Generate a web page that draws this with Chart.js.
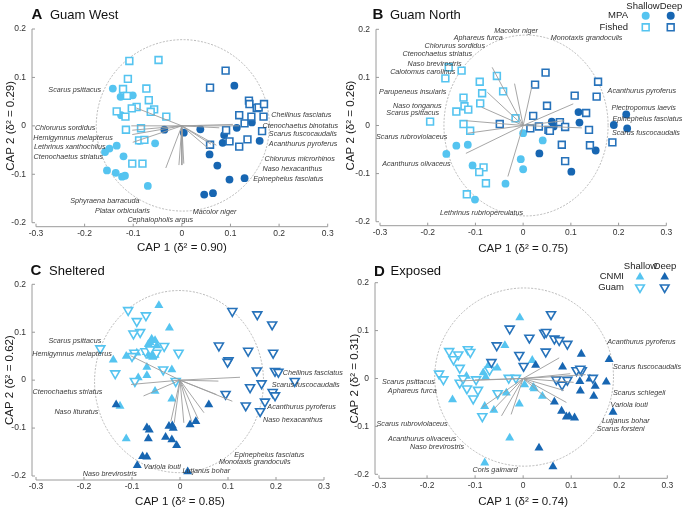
<!DOCTYPE html>
<html>
<head>
<meta charset="utf-8">
<script src="https://cdn.jsdelivr.net/npm/chart.js@4.4.0/dist/chart.umd.min.js"></script>
<style>
html, body { margin: 0; padding: 0; background: #fff; }
#wrap { position: relative; width: 688px; height: 511px; overflow: hidden; }
.panel { position: absolute; width: 344px; height: 256px; }
</style>
</head>
<body>
<div id="wrap">
    <div class="panel" style="left:0;top:0"><canvas id="chartA" width="344" height="256"></canvas></div>
    <div class="panel" style="left:344px;top:0"><canvas id="chartB" width="344" height="256"></canvas></div>
    <div class="panel" style="left:0;top:256px"><canvas id="chartC" width="344" height="256"></canvas></div>
    <div class="panel" style="left:344px;top:256px"><canvas id="chartD" width="344" height="256"></canvas></div>
</div>
<script>
// Eixos
const xTicks = [-0.3, -0.2, -0.1, 0, 0.1, 0.2, 0.3];
const yTicks = [-0.2, -0.1, 0, 0.1, 0.2];

// ========== A: GUAM WEST ==========
const westMpaShallow = [[-0.142,0.077],[-0.126,0.060],[-0.101,0.063],[-0.125,0.022],[-0.134,-0.041],[-0.149,-0.047],[-0.158,-0.054],[-0.120,-0.063],[-0.088,-0.031],[-0.055,-0.036],[-0.154,-0.092],[-0.136,-0.097],[-0.123,-0.105],[-0.117,-0.103],[-0.070,-0.124]];
const westMpaDeep = [[0.108,0.083],[0.038,-0.007],[0.004,-0.014],[-0.036,-0.008],[0.113,-0.004],[0.144,0.007],[0.087,-0.019],[0.084,-0.035],[0.160,-0.031],[0.057,-0.059],[0.073,-0.082],[0.098,-0.111],[0.129,-0.108],[0.046,-0.142],[0.064,-0.139]];
const westFishedShallow = [[-0.108,0.134],[-0.048,0.136],[-0.111,0.097],[-0.121,0.076],[-0.113,0.062],[-0.073,0.077],[-0.068,0.053],[-0.093,0.039],[-0.103,0.036],[-0.057,0.034],[-0.064,0.029],[-0.134,0.030],[-0.116,0.019],[-0.032,0.019],[-0.115,-0.008],[-0.084,-0.005],[-0.088,-0.030],[-0.077,-0.029],[-0.102,-0.078],[-0.081,-0.078]];
const westFishedDeep = [[0.090,0.114],[0.058,0.079],[0.138,0.052],[0.139,0.045],[0.154,0.037],[0.158,0.038],[0.169,0.045],[0.118,0.022],[0.143,0.019],[0.168,0.019],[0.129,0.005],[0.091,-0.009],[0.098,-0.032],[0.135,-0.028],[0.118,-0.043],[0.165,-0.011],[0.058,-0.039]];
const westVectors = [[-0.094,0.037],[-0.104,0.0],[-0.102,-0.009],[-0.102,-0.018],[-0.101,-0.034],[-0.033,-0.087],[-0.006,-0.081],[0.0,-0.081],[0.004,-0.078],[0.105,0.003],[0.118,0.0],[0.077,-0.004],[0.071,-0.040],[0.060,-0.038],[0.055,-0.047]];
const westSpecies = [
    ['Scarus psittacus', -0.166, 0.074, 'right'],
    ['Chlorurus sordidus', -0.178, -0.005, 'right'],
    ['Hemigymnus melapterus', -0.142, -0.025, 'right'],
    ['Lethrinus xanthochilus', -0.157, -0.043, 'right'],
    ['Ctenochaetus striatus', -0.162, -0.064, 'right'],
    ['Sphyraena barracuda', -0.087, -0.154, 'right'],
    ['Platax orbicularis', -0.066, -0.175, 'right'],
    ['Cephalopholis argus', 0.023, -0.193, 'right'],
    ['Macolor niger', 0.112, -0.178, 'right'],
    ['Cheilinus fasciatus', 0.184, 0.022, 'left'],
    ['Ctenochaetus binotatus', 0.166, 0.001, 'left'],
    ['Scarus fuscocaudalis', 0.179, -0.017, 'left'],
    ['Acanthurus pyroferus', 0.179, -0.037, 'left'],
    ['Chlorurus microrhinos', 0.170, -0.069, 'left'],
    ['Naso hexacanthus', 0.166, -0.088, 'left'],
    ['Epinephelus fasciatus', 0.147, -0.109, 'left']
];

// ========== B: GUAM NORTH ==========
const northMpaShallow = [[-0.140,-0.042],[-0.116,-0.040],[-0.161,-0.059],[-0.106,-0.083],[0.0,-0.016],[0.041,-0.031],[-0.005,-0.070],[0.0,-0.091],[-0.037,-0.121],[-0.101,-0.154]];
const northMpaDeep = [[0.116,0.028],[0.118,0.006],[0.060,0.008],[0.064,-0.002],[0.034,-0.058],[0.101,-0.096],[0.152,-0.052],[0.216,0.023],[0.190,0.001],[0.218,-0.006]];
const northFishedShallow = [[-0.156,0.121],[-0.163,0.098],[-0.129,0.114],[-0.091,0.091],[-0.055,0.103],[-0.042,0.071],[-0.086,0.067],[-0.125,0.058],[-0.090,0.046],[-0.140,0.029],[-0.123,0.040],[-0.115,0.033],[-0.195,0.008],[-0.125,0.003],[-0.111,-0.011],[-0.016,0.015],[-0.083,-0.087],[-0.092,-0.097],[-0.078,-0.120],[-0.118,-0.143]];
const northFishedDeep = [[0.047,0.110],[0.025,0.085],[0.050,0.041],[0.108,0.062],[0.157,0.091],[0.154,0.060],[-0.049,0.003],[0.021,0.020],[0.015,-0.006],[0.033,-0.002],[0.053,-0.009],[0.056,-0.011],[0.077,0.007],[0.088,-0.003],[0.132,0.026],[0.138,-0.009],[0.081,-0.040],[0.088,-0.074],[0.140,-0.041],[0.187,-0.035]];
const northVectors = [[-0.065,0.121],[-0.018,0.087],[-0.075,0.069],[-0.087,0.038],[-0.120,0.010],[-0.116,-0.016],[-0.120,-0.058],[-0.032,-0.106],[0.018,0.080],[0.086,0.010],[0.105,0.045],[0.123,-0.005]];
const northSpecies = [
    ['Macolor niger', 0.031, 0.197, 'right'],
    ['Aphareus furca', -0.043, 0.183, 'right'],
    ['Chlorurus sordidus', -0.080, 0.166, 'right'],
    ['Ctenochaetus striatus', -0.107, 0.149, 'right'],
    ['Naso brevirostris', -0.129, 0.128, 'right'],
    ['Calotomus carolinus', -0.142, 0.112, 'right'],
    ['Parupeneus insularis', -0.161, 0.071, 'right'],
    ['Naso tonganus', -0.171, 0.041, 'right'],
    ['Scarus psittacus', -0.176, 0.026, 'right'],
    ['Scarus rubroviolaceus', -0.159, -0.023, 'right'],
    ['Acanthurus olivaceus', -0.152, -0.080, 'right'],
    ['Lethrinus rubrioperculatus', 0.0, -0.182, 'right'],
    ['Monotaxis grandoculis', 0.058, 0.182, 'left'],
    ['Acanthurus pyroferus', 0.177, 0.073, 'left'],
    ['Plectropomus laevis', 0.185, 0.036, 'left'],
    ['Epinephelus fasciatus', 0.187, 0.015, 'left'],
    ['Scarus fuscocaudalis', 0.186, -0.016, 'left']
];

// ========== C: SHELTERED ==========
const shelCnmiShallow = [[-0.044,0.156],[-0.022,0.109],[-0.059,0.086],[-0.052,0.083],[-0.062,0.078],[-0.066,0.075],[-0.048,0.072],[-0.070,0.058],[-0.060,0.056],[-0.052,0.052],[-0.057,0.048],[-0.063,0.050],[-0.090,0.057],[-0.112,0.050],[-0.139,0.042],[-0.017,0.022],[-0.069,0.027],[-0.069,0.010],[-0.087,0.005],[-0.052,-0.023],[-0.017,-0.039],[-0.125,-0.054],[-0.112,-0.122]];
const shelCnmiDeep = [[-0.133,-0.051],[0.060,-0.051],[-0.069,-0.099],[-0.064,-0.104],[-0.066,-0.122],[-0.030,-0.119],[-0.023,-0.096],[-0.016,-0.095],[-0.014,-0.100],[0.021,-0.093],[0.033,-0.086],[-0.017,-0.124],[-0.007,-0.136],[-0.078,-0.159],[-0.069,-0.160],[-0.089,-0.178],[0.016,-0.191],[-0.044,-0.211]];
const shelGuamShallow = [[-0.108,0.146],[-0.090,0.123],[-0.071,0.135],[-0.083,0.100],[-0.097,0.097],[-0.166,0.066],[-0.095,0.057],[-0.100,0.050],[-0.033,0.071],[-0.049,0.057],[-0.003,0.057],[-0.035,0.022],[-0.135,0.014],[-0.094,-0.002],[-0.009,-0.002],[-0.072,0.060],[-0.062,0.064]];
const shelGuamDeep = [[0.109,0.144],[0.161,0.137],[0.192,0.116],[0.081,0.072],[0.142,0.061],[0.194,0.057],[0.101,0.041],[0.099,0.038],[0.160,0.020],[0.198,0.019],[0.205,0.017],[0.170,-0.007],[0.146,-0.015],[0.239,-0.002],[0.193,-0.025],[0.198,-0.032],[0.095,-0.029],[0.177,-0.045],[0.137,-0.053],[0.167,-0.065]];
const shelVectors = [[-0.103,0.051],[-0.102,-0.009],[-0.076,-0.033],[0.125,0.006],[0.080,-0.002],[0.076,-0.030],[0.109,-0.044],[-0.019,-0.086],[-0.012,-0.089],[0.008,-0.089],[0.024,-0.086],[0.038,-0.081],[0.050,-0.068]];
const shelSpecies = [
    ['Scarus psittacus', -0.164, 0.083, 'right'],
    ['Hemigymnus melapterus', -0.142, 0.055, 'right'],
    ['Ctenochaetus striatus', -0.162, -0.025, 'right'],
    ['Naso lituratus', -0.170, -0.067, 'right'],
    ['Naso brevirostris', -0.090, -0.195, 'right'],
    ['Variola louti', 0.002, -0.181, 'right'],
    ['Cheilinus fasciatus', 0.214, 0.015, 'left'],
    ['Scarus fuscocaudalis', 0.191, -0.010, 'left'],
    ['Acanthurus pyroferus', 0.182, -0.056, 'left'],
    ['Naso hexacanthus', 0.173, -0.082, 'left'],
    ['Epinephelus fasciatus', 0.113, -0.155, 'left'],
    ['Monotaxis grandoculis', 0.081, -0.170, 'left'],
    ['Lutjanus bohar', 0.005, -0.189, 'left']
];

// ========== D: EXPOSED ==========
const expoCnmiShallow = [[-0.007,0.127],[-0.038,0.069],[0.019,0.038],[-0.073,0.026],[-0.054,0.022],[-0.118,0.005],[-0.083,0.012],[-0.147,-0.044],[-0.080,-0.058],[-0.061,-0.066],[-0.035,-0.030],[-0.008,-0.053],[0.003,-0.013],[0.021,-0.018],[0.040,-0.037],[-0.028,-0.124],[-0.080,-0.176],[-0.078,0.003],[0.023,-0.021]];
const expoCnmiDeep = [[0.026,0.028],[0.082,0.024],[0.121,0.051],[0.179,0.040],[0.173,-0.007],[0.139,-0.001],[0.150,-0.016],[0.118,-0.006],[0.119,-0.026],[0.147,-0.037],[0.065,-0.049],[0.080,-0.068],[0.090,-0.080],[0.107,-0.082],[0.096,-0.079],[0.187,-0.070],[0.033,-0.145],[0.062,-0.184]];
const expoGuamShallow = [[-0.175,0.010],[-0.166,-0.002],[-0.154,0.057],[-0.135,0.050],[-0.115,0.061],[-0.110,0.055],[-0.132,0.022],[-0.132,-0.009],[-0.117,-0.021],[-0.094,-0.024],[-0.104,-0.042],[-0.085,-0.079],[-0.053,-0.031],[-0.030,0.001],[-0.015,0.001],[-0.098,-0.002],[-0.125,0.000],[-0.070,0.018],[-0.145,0.040]];
const expoGuamDeep = [[0.058,0.134],[-0.028,0.104],[0.044,0.095],[0.048,0.097],[0.013,0.085],[0.065,0.083],[0.075,0.080],[0.092,0.072],[-0.055,0.069],[-0.008,0.049],[0.047,0.056],[0.001,0.026],[-0.066,0.034],[0.111,0.017],[0.122,0.017],[0.145,0.001],[0.069,-0.002],[0.092,-0.003],[0.081,-0.013],[0.119,0.020]];
const expoVectors = [[0.075,0.043],[0.098,0.010],[0.130,0.008],[0.105,-0.008],[0.085,-0.025],[0.090,-0.050],[0.060,-0.050],[-0.132,-0.005],[-0.100,-0.003],[-0.085,-0.060],[-0.065,-0.068],[-0.045,-0.078],[-0.025,-0.075]];
const expoSpecies = [
    ['Scarus psittacus', -0.184, -0.007, 'right'],
    ['Aphareus furca', -0.180, -0.025, 'right'],
    ['Scarus rubroviolaceus', -0.157, -0.095, 'right'],
    ['Acanthurus olivaceus', -0.139, -0.126, 'right'],
    ['Naso brevirostris', -0.123, -0.143, 'right'],
    ['Coris gaimard', -0.012, -0.190, 'right'],
    ['Acanthurus pyroferus', 0.175, 0.076, 'left'],
    ['Scarus fuscocaudalis', 0.187, 0.024, 'left'],
    ['Scarus schlegeli', 0.187, -0.030, 'left'],
    ['Variola louti', 0.182, -0.054, 'left'],
    ['Lutjanus bohar', 0.164, -0.089, 'left'],
    ['Scarus forsteni', 0.153, -0.106, 'left']
];

// Cores
const lightBlue = '#55c4f0';
const darkBlue = '#1766b2';
const darkOutline = '#2672ba';
const vectorColor = '#9c9c9c';
const axisColor = '#9a9a9a';
const fontFamily = '"Liberation Sans", Arial, sans-serif';

function toPoints(arr) {
    return arr.map(p => ({ x: p[0], y: p[1] }));
}

function markerSet(arr, style, color, filled, rotation) {
    return {
        data: toPoints(arr),
        pointStyle: style,
        rotation: rotation || 0,
        pointRadius: style === 'circle' ? 3.9 : (style === 'rect' ? 4.8 : 5.2),
        pointBackgroundColor: filled ? color : '#ffffff',
        pointBorderColor: color,
        pointBorderWidth: filled ? 0 : 1.6,
        showLine: false,
        clip: false,
        order: 1
    };
}

function vectorSets(vectors) {
    return vectors.map(v => ({
        data: [{ x: 0, y: 0 }, { x: v[0], y: v[1] }],
        showLine: true,
        borderColor: vectorColor,
        borderWidth: 0.9,
        pointRadius: 0,
        clip: false,
        order: 0
    }));
}

// Círculo, eixos, rótulos e legenda
const capDecor = {
    id: 'capDecor',
    beforeDatasetsDraw(chart, args, opts) {
        const ctx = chart.ctx;
        const xs = chart.scales.x, ys = chart.scales.y;
        const c = opts.circle;
        const pxX = Math.abs(xs.getPixelForValue(1) - xs.getPixelForValue(0));
        const pxY = Math.abs(ys.getPixelForValue(1) - ys.getPixelForValue(0));
        ctx.save();
        ctx.strokeStyle = '#a8a8a8';
        ctx.lineWidth = 0.8;
        ctx.setLineDash([2, 1.5]);
        ctx.beginPath();
        ctx.ellipse(xs.getPixelForValue(c[0]), ys.getPixelForValue(c[1]), c[2] * pxX, c[3] * pxY, 0, 0, Math.PI * 2);
        ctx.stroke();
        ctx.restore();

        // eixos destacados
        const area = chart.chartArea;
        const yLine = area.left - 4;
        const xLine = area.bottom + 4;
        ctx.save();
        ctx.strokeStyle = axisColor;
        ctx.lineWidth = 1;
        ctx.beginPath();
        ctx.moveTo(yLine, ys.getPixelForValue(yTicks[yTicks.length - 1]));
        ctx.lineTo(yLine, ys.getPixelForValue(yTicks[0]));
        ys.ticks.forEach(t => {
            const py = ys.getPixelForValue(t.value);
            ctx.moveTo(yLine, py);
            ctx.lineTo(yLine + 3, py);
        });
        ctx.moveTo(xs.getPixelForValue(xTicks[0]), xLine);
        ctx.lineTo(xs.getPixelForValue(xTicks[xTicks.length - 1]), xLine);
        xs.ticks.forEach(t => {
            const px = xs.getPixelForValue(t.value);
            ctx.moveTo(px, xLine);
            ctx.lineTo(px, xLine - 3);
        });
        ctx.stroke();
        ctx.restore();
    },
    afterDatasetsDraw(chart, args, opts) {
        const ctx = chart.ctx;
        const xs = chart.scales.x, ys = chart.scales.y;
        ctx.save();
        ctx.fillStyle = '#3a3a3a';
        ctx.font = 'italic 8px ' + fontFamily;
        ctx.textBaseline = 'middle';
        opts.species.forEach(s => {
            ctx.save();
            ctx.translate(xs.getPixelForValue(s[1]), ys.getPixelForValue(s[2]));
            ctx.scale(0.9, 1);
            ctx.textAlign = s[3];
            ctx.fillText(s[0], 0, 0);
            ctx.restore();
        });
        ctx.restore();

        // título do painel
        ctx.save();
        ctx.fillStyle = '#111';
        ctx.textBaseline = 'middle';
        ctx.textAlign = 'left';
        ctx.font = 'bold 15px ' + fontFamily;
        ctx.fillText(opts.letter, opts.titlePos[0], opts.titlePos[1]);
        ctx.font = '13px ' + fontFamily;
        ctx.fillText(opts.name, opts.titlePos[2], opts.titlePos[1]);
        ctx.restore();

        if (opts.legend) drawLegend(ctx, opts.legend);
    }
};

function drawLegend(ctx, lg) {
    ctx.save();
    ctx.fillStyle = '#222';
    ctx.font = '9.5px ' + fontFamily;
    ctx.textBaseline = 'middle';
    ctx.textAlign = 'center';
    ctx.fillText('Shallow', lg.cols[0], lg.head);
    ctx.fillText('Deep', lg.cols[1], lg.head);
    ctx.textAlign = 'right';
    lg.rows.forEach((r, i) => ctx.fillText(r, lg.labelX, lg.rowY[i]));
    lg.markers.forEach(m => {
        ctx.fillStyle = m.fill;
        ctx.strokeStyle = m.stroke;
        ctx.lineWidth = m.width;
        Chart.helpers.drawPoint(ctx, { pointStyle: m.style, rotation: m.rotation || 0, radius: m.radius, borderWidth: m.width }, m.x, m.y);
    });
    ctx.restore();
}

function fmtTick(v) {
    return Math.abs(v) < 1e-9 ? '0' : v.toFixed(1);
}

function createCapChart(id, datasets, cfg) {
    const ctx = document.getElementById(id);
    return new Chart(ctx, {
        type: 'scatter',
        data: { datasets: datasets },
        options: {
            responsive: false,
            animation: false,
            events: [],
            layout: { padding: { left: 0, right: 344 - cfg.area[1], top: cfg.area[2], bottom: 0 } },
            plugins: {
                legend: { display: false },
                tooltip: { enabled: false },
                capDecor: cfg.decor
            },
            scales: {
                x: {
                    type: 'linear',
                    min: -0.3,
                    max: 0.3,
                    afterBuildTicks: scale => { scale.ticks = xTicks.map(v => ({ value: v })); },
                    afterFit: scale => { scale.height = 256 - cfg.area[3]; },
                    grid: { display: false, drawTicks: false },
                    border: { display: false },
                    ticks: { color: '#333', font: { family: fontFamily, size: 8.5 }, padding: 6, callback: fmtTick, maxRotation: 0 },
                    title: { display: true, text: cfg.xTitle, color: '#1a1a1a', font: { family: fontFamily, size: 11.5 }, padding: { top: 0, bottom: cfg.xTitlePad } }
                },
                y: {
                    type: 'linear',
                    min: -0.2,
                    max: 0.2,
                    afterBuildTicks: scale => { scale.ticks = yTicks.map(v => ({ value: v })); },
                    afterFit: scale => { scale.width = cfg.area[0]; },
                    grid: { display: false, drawTicks: false },
                    border: { display: false },
                    ticks: { color: '#333', font: { family: fontFamily, size: 8.5 }, padding: 10, callback: fmtTick },
                    title: { display: true, text: cfg.yTitle, color: '#1a1a1a', font: { family: fontFamily, size: 11.5 }, padding: { top: cfg.yTitlePad, bottom: 0 } }
                }
            }
        },
        plugins: [capDecor]
    });
}

const circleStyle = (arr, color) => markerSet(arr, 'circle', color, true);

// A
createCapChart('chartA', [
    ...vectorSets(westVectors),
    markerSet(westFishedDeep, 'rect', darkOutline, false),
    markerSet(westFishedShallow, 'rect', lightBlue, false),
    circleStyle(westMpaDeep, darkBlue),
    circleStyle(westMpaShallow, lightBlue)
], {
    area: [36, 327.7, 29, 222.7],
    xTitle: 'CAP 1 (δ² = 0.90)', yTitle: 'CAP 2 (δ² = 0.29)',
    xTitlePad: 1.5, yTitlePad: 4,
    decor: { circle: [0.002, 0.001, 0.178, 0.177], species: westSpecies, letter: 'A', name: 'Guam West', titlePos: [31.5, 15, 50] }
});

// B
createCapChart('chartB', [
    ...vectorSets(northVectors),
    markerSet(northFishedDeep, 'rect', darkOutline, false),
    markerSet(northFishedShallow, 'rect', lightBlue, false),
    circleStyle(northMpaDeep, darkBlue),
    circleStyle(northMpaShallow, lightBlue)
], {
    area: [36, 322.3, 29.3, 221.7],
    xTitle: 'CAP 1 (δ² = 0.75)', yTitle: 'CAP 2 (δ² = 0.26)',
    xTitlePad: 0, yTitlePad: 0,
    decor: {
        circle: [0.006, 0, 0.172, 0.188], species: northSpecies, letter: 'B', name: 'Guam North', titlePos: [28.5, 15, 46],
        legend: {
            cols: [299, 327], head: 6, labelX: 284, rowY: [15.7, 27.3], rows: ['MPA', 'Fished'],
            markers: [
                { style: 'circle', x: 301.7, y: 15.7, radius: 4, fill: lightBlue, stroke: lightBlue, width: 0 },
                { style: 'circle', x: 326.7, y: 15.7, radius: 4, fill: darkBlue, stroke: darkBlue, width: 0 },
                { style: 'rect', x: 301.7, y: 27.3, radius: 4.8, fill: '#fff', stroke: lightBlue, width: 1.6 },
                { style: 'rect', x: 326.7, y: 27.3, radius: 4.8, fill: '#fff', stroke: darkOutline, width: 1.6 }
            ]
        }
    }
});

// C
createCapChart('chartC', [
    ...vectorSets(shelVectors),
    markerSet(shelGuamDeep, 'triangle', darkOutline, false, 180),
    markerSet(shelGuamShallow, 'triangle', lightBlue, false, 180),
    markerSet(shelCnmiDeep, 'triangle', darkBlue, true),
    markerSet(shelCnmiShallow, 'triangle', lightBlue, true)
], {
    area: [36, 324, 28.3, 220],
    xTitle: 'CAP 1 (δ² = 0.85)', yTitle: 'CAP 2 (δ² = 0.62)',
    xTitlePad: 3.5, yTitlePad: 3,
    decor: { circle: [-0.002, -0.003, 0.176, 0.19], species: shelSpecies, letter: 'C', name: 'Sheltered', titlePos: [30.5, 15, 49] }
});

// D
createCapChart('chartD', [
    ...vectorSets(expoVectors),
    markerSet(expoGuamDeep, 'triangle', darkOutline, false, 180),
    markerSet(expoGuamShallow, 'triangle', lightBlue, false, 180),
    markerSet(expoCnmiDeep, 'triangle', darkBlue, true),
    markerSet(expoCnmiShallow, 'triangle', lightBlue, true)
], {
    area: [35, 323.3, 26.7, 218.3],
    xTitle: 'CAP 1 (δ² = 0.74)', yTitle: 'CAP 2 (δ² = 0.31)',
    xTitlePad: 3.5, yTitlePad: 3.5,
    decor: {
        circle: [0.002, 0.003, 0.186, 0.186], species: expoSpecies, letter: 'D', name: 'Exposed', titlePos: [30, 15.7, 46.5],
        legend: {
            cols: [296.5, 321], head: 10, labelX: 280, rowY: [20.7, 31], rows: ['CNMI', 'Guam'],
            markers: [
                { style: 'triangle', x: 296, y: 21, radius: 5, fill: lightBlue, stroke: lightBlue, width: 0 },
                { style: 'triangle', x: 320.7, y: 21, radius: 5, fill: darkBlue, stroke: darkBlue, width: 0 },
                { style: 'triangle', rotation: 180, x: 296, y: 31.5, radius: 5, fill: '#fff', stroke: lightBlue, width: 1.6 },
                { style: 'triangle', rotation: 180, x: 320.7, y: 31.5, radius: 5, fill: '#fff', stroke: darkOutline, width: 1.6 }
            ]
        }
    }
});
</script>
</body>
</html>
